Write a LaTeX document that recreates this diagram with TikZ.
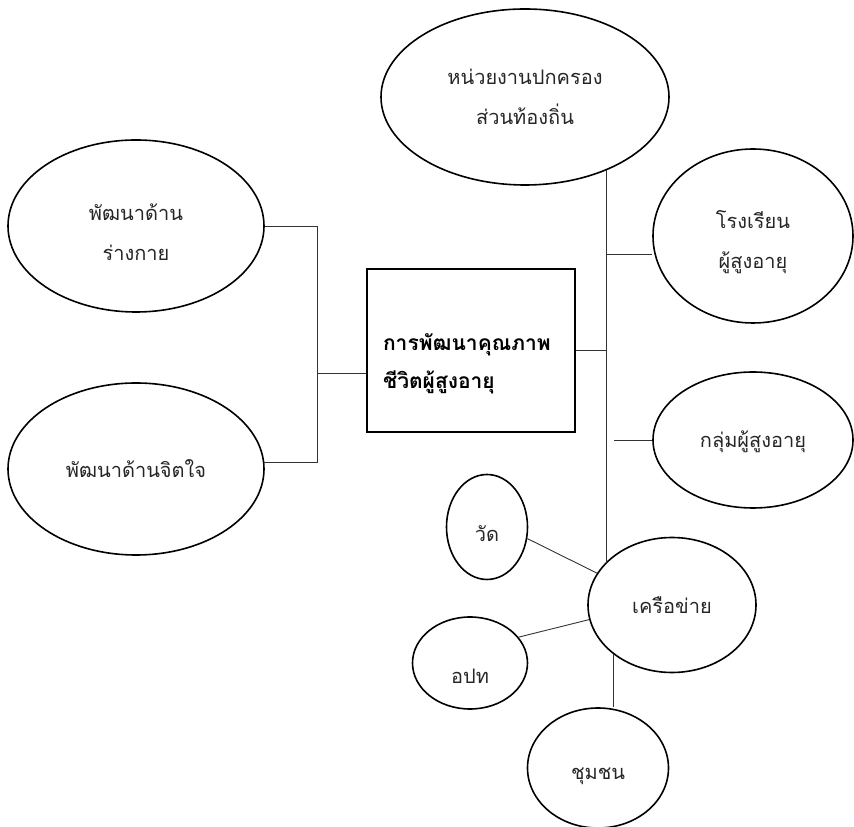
\documentclass[tikz,border=0pt]{standalone}
\usepackage{fontspec}
\newfontfamily\thaifont[Script=Thai]{Loma}
\usetikzlibrary{shapes.geometric}
\newcommand{\lowertext}[2]{\raisebox{-#1}[\height][\depth]{#2}}
\begin{document}
\begin{tikzpicture}[x=1pt,y=1pt,
  oval/.style={draw=black,line width=1.6pt,ellipse,inner sep=0pt,align=center,
    font=\thaifont\fontsize{20}{40}\selectfont,text=black!85},
  mainbox/.style={draw=black,line width=2pt,rectangle,inner sep=0pt,
    font=\thaifont\bfseries\fontsize{21}{38}\selectfont,text=black},
  conn/.style={draw=black!80,line width=0.9pt}]
\useasboundingbox (0,0) rectangle (854,827);
\node[oval,minimum width=288,minimum height=176] (top) at (525,730) {\begin{tabular}{@{}c@{}}หน่วยงานปกครอง\\ส่วนท้องถิ่น\end{tabular}};
\node[oval,minimum width=200,minimum height=174] (school) at (753,591) {\lowertext{4.5pt}{\begin{tabular}{@{}c@{}}โรงเรียน\\ผู้สูงอายุ\end{tabular}}};
\node[oval,minimum width=200,minimum height=136] (group) at (753,387) {\lowertext{2pt}{กลุ่มผู้สูงอายุ}};
\node[oval,minimum width=256,minimum height=172] (phys) at (136,601) {\lowertext{6.5pt}{\begin{tabular}{@{}c@{}}พัฒนาด้าน\\ร่างกาย\end{tabular}}};
\node[oval,minimum width=256,minimum height=172] (mind) at (136,358) {พัฒนาด้านจิตใจ};
\node[mainbox,minimum width=208,minimum height=163,text width=176,align=left] (box) at (471,476.5) {\lowertext{13pt}{\parbox{176pt}{การพัฒนาคุณภาพ\\ชีวิตผู้สูงอายุ}}};
\node[oval,minimum width=168,minimum height=135] (net) at (672,222) {เครือข่าย};
\node[oval,minimum width=81,minimum height=105] (wat) at (487,300) {\lowertext{7pt}{วัด}};
\node[oval,minimum width=115,minimum height=92] (opt) at (470,164) {\lowertext{13pt}{อปท}};
\node[oval,minimum width=141,minimum height=120] (comm) at (598,59) {\lowertext{8pt}{ชุมชน}};
% left bracket
\coordinate (lb) at (317,454);
\draw[conn] (phys.east) -| (lb);
\draw[conn] (mind.3) -| (lb);
\draw[conn] (lb) -- (lb -| box.west);
% right spine
\coordinate (spb) at (606,264);
\coordinate (s1) at (606,573);
\coordinate (g1) at (614,387);
\draw[conn] (top.-42) -- (top.-42 |- spb);
\draw[conn] (box.east) -- (box.east -| spb);
\draw[conn] (s1) -- (s1 -| school.west);
\draw[conn] (g1) -- (group.west);
% network
\draw[conn] (wat.-16) -- (net.157);
\draw[conn] (opt.28) -- (net.190);
\draw[conn] (net.220) -- (net.220 |- comm.north);
\end{tikzpicture}
\end{document}
